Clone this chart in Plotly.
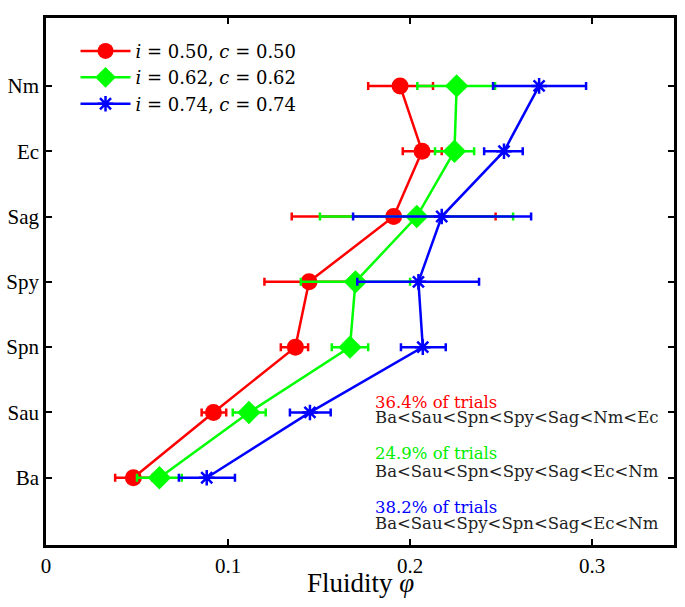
import plotly.graph_objects as go

categories = ["Ba", "Sau", "Spn", "Spy", "Sag", "Ec", "Nm"]

red_center = [0.048, 0.092, 0.137, 0.1445, 0.191, 0.2066, 0.1945]
red_lo = [0.038, 0.0855, 0.129, 0.120, 0.135, 0.196, 0.177]
red_hi = [0.0585, 0.099, 0.144, 0.169, 0.247, 0.2174, 0.2126]

green_center = [0.0623, 0.1115, 0.167, 0.170, 0.2037, 0.2244, 0.2256]
green_lo = [0.050, 0.1026, 0.157, 0.140, 0.1505, 0.2137, 0.204]
green_hi = [0.0746, 0.1207, 0.177, 0.200, 0.2566, 0.2352, 0.2467]

blue_center = [0.0883, 0.145, 0.207, 0.2046, 0.2174, 0.2516, 0.2709]
blue_lo = [0.073, 0.134, 0.195, 0.171, 0.1687, 0.2407, 0.2456]
blue_hi = [0.1038, 0.1564, 0.2196, 0.2379, 0.2665, 0.2619, 0.2967]

series_names = ["<i>i</i> = 0.50, <i>c</i> = 0.50",
                "<i>i</i> = 0.62, <i>c</i> = 0.62",
                "<i>i</i> = 0.74, <i>c</i> = 0.74"]

x_ticks = [0, 0.1, 0.2, 0.3]
x_tick_labels = ["0", "0.1", "0.2", "0.3"]

notes = [("36.4% of trials", "Ba<Sau<Spn<Spy<Sag<Nm<Ec", "#ff0000"),
         ("24.9% of trials", "Ba<Sau<Spn<Spy<Sag<Ec<Nm", "#00ee00"),
         ("38.2% of trials", "Ba<Sau<Spy<Spn<Sag<Ec<Nm", "#0000ff")]

SERIF = "Liberation Serif"
CM = "DejaVu Serif"

fig = go.Figure()
specs = [
    (red_center, red_lo, red_hi, "#ff0000", dict(symbol="circle", size=17)),
    (green_center, green_lo, green_hi, "#00ff00", dict(symbol="diamond", size=18)),
    (blue_center, blue_lo, blue_hi, "#0000ff", dict(symbol="asterisk-open", size=13, line=dict(width=2.5, color="#0000ff"))),
]
for (c, lo, hi, col, mk), name in zip(specs, series_names):
    plus = [h - v for h, v in zip(hi, c)]
    minus = [v - l for v, l in zip(c, lo)]
    fig.add_trace(go.Scatter(
        x=c, y=categories, mode="lines+markers", name=name,
        line=dict(color=col, width=2.5),
        marker=dict(color=col, **mk),
        error_x=dict(type="data", array=plus, arrayminus=minus, symmetric=False,
                     color=col, thickness=2.5, width=4),
    ))

ann = []
ys = [(0.2713, 0.241), (0.1727, 0.1404), (0.0721, 0.0417)]
for (head, order, col), (y1, y2) in zip(notes, ys):
    ann.append(dict(x=0.52, y=y1, xref="paper", yref="paper", text=head, showarrow=False,
                    xanchor="left", yanchor="middle", font=dict(family=CM, size=16.5, color=col)))
    ann.append(dict(x=0.52, y=y2, xref="paper", yref="paper", text=order.replace("<", "&lt;"), showarrow=False,
                    xanchor="left", yanchor="middle", font=dict(family=CM, size=16.5, color="#222222")))
ann.append(dict(x=0.5, y=-0.073, xref="paper", yref="paper", text="Fluidity <i>φ</i>", showarrow=False,
                xanchor="center", yanchor="middle", font=dict(family=SERIF, size=27, color="black")))

fig.update_layout(
    width=685, height=607,
    margin=dict(l=46, r=11, t=18, b=62, autoexpand=False),
    plot_bgcolor="white", paper_bgcolor="white",
    font=dict(family=SERIF, color="black"),
    showlegend=True,
    legend=dict(x=0.047, y=0.972, xanchor="left", yanchor="top", bgcolor="rgba(0,0,0,0)",
                font=dict(family=CM, size=18), tracegroupgap=0, itemwidth=50),
    annotations=ann,
    xaxis=dict(range=[0, 0.345], tickvals=x_ticks, ticktext=x_tick_labels, automargin=False,
               ticks="inside", ticklen=6, tickwidth=2, tickcolor="black",
               showline=True, linewidth=2.5, linecolor="black", mirror="ticks",
               showgrid=False, zeroline=False,
               tickfont=dict(family=SERIF, size=21)),
    yaxis=dict(type="category", categoryorder="array", categoryarray=categories, automargin=False,
               range=[-1.03, 7.04],
               ticks="inside", ticklen=6, tickwidth=2, tickcolor="black",
               showline=True, linewidth=2.5, linecolor="black", mirror="ticks",
               showgrid=False, zeroline=False,
               tickfont=dict(family=SERIF, size=21)),
)

fig.write_html("out.html", config={"displayModeBar": False},
               post_script="document.body.style.margin='0';")
